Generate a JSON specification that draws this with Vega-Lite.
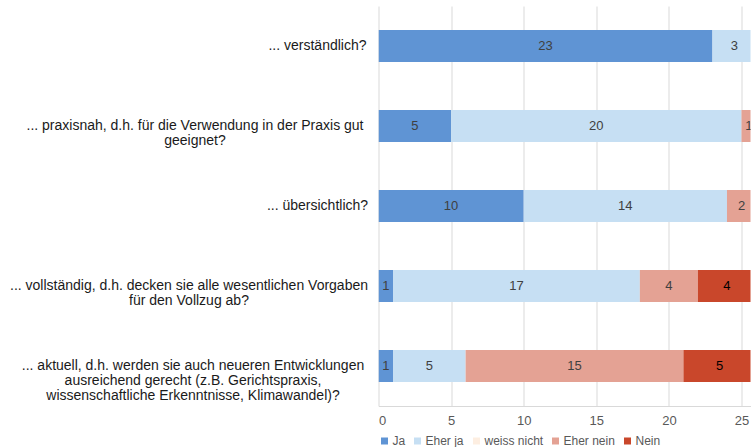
{
  "$schema": "https://vega.github.io/schema/vega-lite/v6.json",
  "width": 372,
  "height": 400,
  "padding": {"left": 8.5, "top": 6, "right": 0, "bottom": 0},
  "config": {"view": {"stroke": null}, "font": "Liberation Sans"},
  "data": {
    "values": [
      {"q": "... verständlich?", "a": "Ja", "o": 1, "v": 23},
      {"q": "... verständlich?", "a": "Eher ja", "o": 2, "v": 3},
      {"q": "... praxisnah, d.h. für die Verwendung in der Praxis gut|geeignet?", "a": "Ja", "o": 1, "v": 5},
      {"q": "... praxisnah, d.h. für die Verwendung in der Praxis gut|geeignet?", "a": "Eher ja", "o": 2, "v": 20},
      {"q": "... praxisnah, d.h. für die Verwendung in der Praxis gut|geeignet?", "a": "Eher nein", "o": 4, "v": 1},
      {"q": "... übersichtlich?", "a": "Ja", "o": 1, "v": 10},
      {"q": "... übersichtlich?", "a": "Eher ja", "o": 2, "v": 14},
      {"q": "... übersichtlich?", "a": "Eher nein", "o": 4, "v": 2},
      {"q": "... vollständig, d.h. decken sie alle wesentlichen Vorgaben|für den Vollzug ab?", "a": "Ja", "o": 1, "v": 1},
      {"q": "... vollständig, d.h. decken sie alle wesentlichen Vorgaben|für den Vollzug ab?", "a": "Eher ja", "o": 2, "v": 17},
      {"q": "... vollständig, d.h. decken sie alle wesentlichen Vorgaben|für den Vollzug ab?", "a": "Eher nein", "o": 4, "v": 4},
      {"q": "... vollständig, d.h. decken sie alle wesentlichen Vorgaben|für den Vollzug ab?", "a": "Nein", "o": 5, "v": 4},
      {"q": "... aktuell, d.h. werden sie auch neueren Entwicklungen|ausreichend gerecht (z.B. Gerichtspraxis,|wissenschaftliche Erkenntnisse, Klimawandel)?", "a": "Ja", "o": 1, "v": 1},
      {"q": "... aktuell, d.h. werden sie auch neueren Entwicklungen|ausreichend gerecht (z.B. Gerichtspraxis,|wissenschaftliche Erkenntnisse, Klimawandel)?", "a": "Eher ja", "o": 2, "v": 5},
      {"q": "... aktuell, d.h. werden sie auch neueren Entwicklungen|ausreichend gerecht (z.B. Gerichtspraxis,|wissenschaftliche Erkenntnisse, Klimawandel)?", "a": "Eher nein", "o": 4, "v": 15},
      {"q": "... aktuell, d.h. werden sie auch neueren Entwicklungen|ausreichend gerecht (z.B. Gerichtspraxis,|wissenschaftliche Erkenntnisse, Klimawandel)?", "a": "Nein", "o": 5, "v": 5}
    ]
  },
  "encoding": {
    "y": {
      "field": "q",
      "type": "nominal",
      "sort": null,
      "scale": {"paddingInner": 0.6, "paddingOuter": 0.3},
      "axis": {
        "title": null,
        "domain": false,
        "ticks": false,
        "grid": false,
        "labelFontSize": 14,
        "labelColor": "#1a1a1a",
        "labelAlign": "center",
        "labelBaseline": "middle",
        "labelLineHeight": 15,
        "labelLimit": 500,
        "labelExpr": "split(datum.label, '|')",
        "labelPadding": {
          "condition": [
            {"test": "datum.value === '... praxisnah, d.h. für die Verwendung in der Praxis gut|geeignet?'", "value": 184},
            {"test": "datum.value === '... vollständig, d.h. decken sie alle wesentlichen Vorgaben|für den Vollzug ab?'", "value": 190},
            {"test": "datum.value === '... aktuell, d.h. werden sie auch neueren Entwicklungen|ausreichend gerecht (z.B. Gerichtspraxis,|wissenschaftliche Erkenntnisse, Klimawandel)?'", "value": 186}
          ],
          "value": 61.5
        }
      }
    }
  },
  "layer": [
    {
      "mark": {"type": "bar", "clip": true},
      "encoding": {
        "x": {
          "field": "v",
          "type": "quantitative",
          "stack": "zero",
          "scale": {"domain": [0, 25.62], "nice": false},
          "axis": {
            "title": null,
            "values": [0, 5, 10, 15, 20, 25],
            "gridColor": "#d9d9d9",
            "domainColor": "#d9d9d9",
            "ticks": false,
            "labelFontSize": 13,
            "labelColor": "#595959",
            "labelPadding": 8
          }
        },
        "color": {
          "field": "a",
          "type": "nominal",
          "scale": {
            "domain": ["Ja", "Eher ja", "weiss nicht", "Eher nein", "Nein"],
            "range": ["#5f94d4", "#c6dff3", "#fdeee1", "#e4a294", "#c9472b"]
          },
          "legend": {
            "title": null,
            "orient": "bottom",
            "direction": "horizontal",
            "symbolType": "square",
            "symbolSize": 49,
            "labelFontSize": 12,
            "labelColor": "#595959",
            "columnPadding": 6,
            "labelOffset": 2,
            "offset": 8,
            "padding": 0
          }
        },
        "order": {"field": "o", "type": "quantitative"}
      }
    },
    {
      "mark": {"type": "text", "clip": true, "fontSize": 13},
      "encoding": {
        "x": {"field": "v", "type": "quantitative", "stack": "zero", "bandPosition": 0.5},
        "detail": {"field": "a", "type": "nominal"},
        "order": {"field": "o", "type": "quantitative"},
        "text": {"field": "v", "type": "quantitative"},
        "color": {
          "condition": {"test": "datum.a === 'Nein'", "value": "#000000"},
          "value": "#404040"
        }
      }
    }
  ]
}
